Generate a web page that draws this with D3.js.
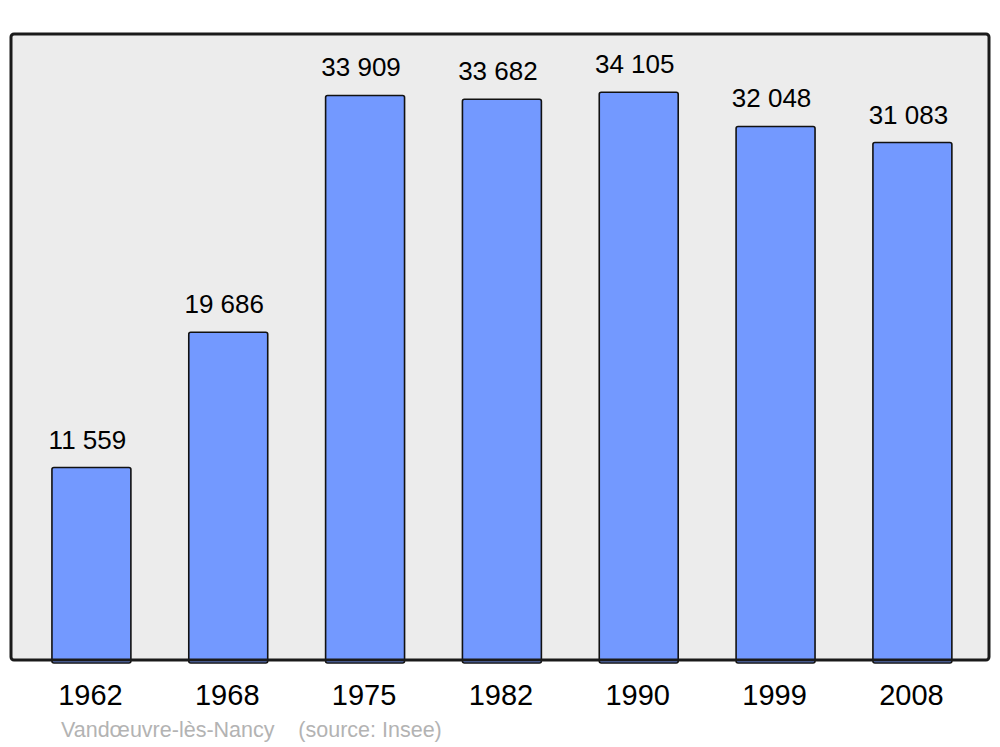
<!DOCTYPE html>
<html>
<head>
<meta charset="utf-8">
<script src="https://d3js.org/d3.v7.min.js"></script>
<style>
  body { margin: 0; background: #fff; }
  text { font-family: "Liberation Sans", Arial, sans-serif; }
</style>
</head>
<body>
<div id="chart-area"></div>
<script>
  var years = ['1962', '1968', '1975', '1982', '1990', '1999', '2008'];
  var population = [11559, 19686, 33909, 33682, 34105, 32048, 31083];
  var valueLabels = ['11 559', '19 686', '33 909', '33 682', '34 105', '32 048', '31 083'];
  var sourceText = 'Vandœuvre-lès-Nancy    (source: Insee)';

  var width = 1000, height = 747;
  var plot = {left: 11, right: 989, top: 34, bottom: 660};

  var svg = d3.select('#chart-area')
              .append('svg')
              .attr('width', width)
              .attr('height', height);

  // plot frame
  svg.append('rect')
     .attr('x', plot.left)
     .attr('y', plot.top)
     .attr('width', plot.right - plot.left)
     .attr('height', plot.bottom - plot.top)
     .attr('rx', 3)
     .attr('fill', '#ececec')
     .attr('stroke', 'none');

  // scales
  var x = d3.scaleBand()
            .domain(years)
            .range([23, 23 + 7 * 136.83])
            .paddingInner(0.423)
            .paddingOuter(0.2115);
  var y = d3.scaleLinear()
            .domain([0, 37600])
            .range([plot.bottom, plot.top]);

  // bars
  svg.selectAll('.bar')
     .data(population)
     .enter()
     .append('rect')
     .attr('class', 'bar')
     .attr('x', function(d, i) { return x(years[i]); })
     .attr('y', function(d) { return y(d); })
     .attr('width', x.bandwidth())
     .attr('height', function(d) { return y(0) - y(d) + 3; })
     .attr('rx', 2)
     .attr('fill', '#7399ff')
     .attr('stroke', '#111')
     .attr('stroke-width', 1.6);

  // frame border on top of bars
  svg.append('rect')
     .attr('x', plot.left)
     .attr('y', plot.top)
     .attr('width', plot.right - plot.left)
     .attr('height', plot.bottom - plot.top)
     .attr('rx', 3)
     .attr('fill', 'none')
     .attr('stroke', '#1a1a1a')
     .attr('stroke-width', 3);

  // value labels
  svg.selectAll('.value')
     .data(population)
     .enter()
     .append('text')
     .attr('class', 'value')
     .attr('x', function(d, i) { return x(years[i]) + x.bandwidth() / 2 - 4; })
     .attr('y', function(d) { return y(d) - 19; })
     .attr('text-anchor', 'middle')
     .attr('font-size', '26px')
     .attr('fill', '#000')
     .text(function(d, i) { return valueLabels[i]; });

  // x axis labels
  var xAxis = d3.axisBottom(x).tickSize(0).tickPadding(0);
  var gx = svg.append('g')
     .attr('transform', 'translate(0,' + plot.bottom + ')')
     .call(xAxis);
  gx.select('.domain').remove();
  gx.selectAll('text')
    .attr('x', -1)
    .attr('y', 45)
    .attr('dy', 0)
    .attr('font-size', '29px')
    .attr('font-family', '"Liberation Sans", Arial, sans-serif')
    .attr('fill', '#000');

  // source
  svg.append('text')
     .attr('x', 61)
     .attr('y', 737)
     .attr('font-size', '21.5px')
     .attr('fill', '#b3b3b3')
     .style('white-space', 'pre')
     .text(sourceText);
</script>
</body>
</html>
